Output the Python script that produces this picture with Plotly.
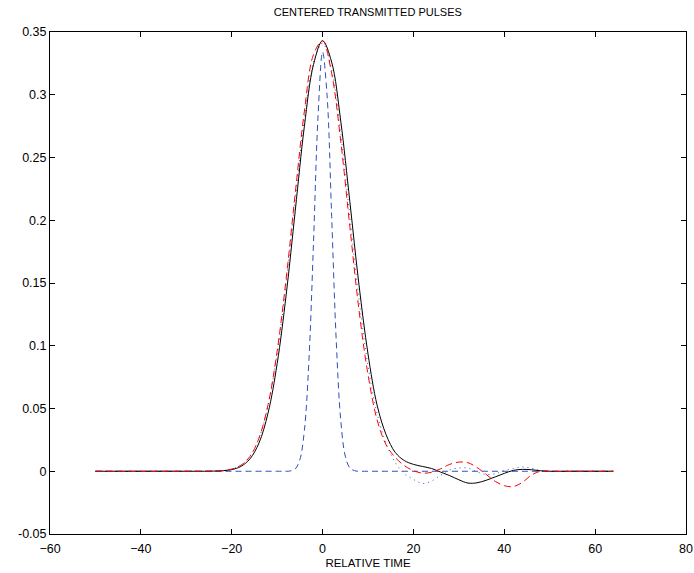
import plotly.graph_objects as go

# Time grid for the wide pulses
t_wide = [-50, -40, -30, -26, -24, -22, -20, -18, -16, -14, -12, -10, -8, -6, -4, -2,
          0, 2, 4, 6, 8, 10, 12, 14, 16, 18, 20, 22, 24, 26, 28, 30, 32, 34, 36, 38,
          40, 42, 44, 46, 48, 50, 56, 64]

# Black solid pulse
pulse_solid = [0, 0, 0, 0, 0.0001, 0.0004, 0.0013, 0.0038, 0.0098, 0.0225, 0.0464, 0.0856,
               0.141, 0.208, 0.275, 0.324,
               0.343, 0.326, 0.279, 0.215, 0.149, 0.0935, 0.0527, 0.029, 0.015, 0.0085,
               0.0055, 0.0038, 0.0022, -0.0007, -0.0035, -0.0068, -0.0094, -0.0092,
               -0.0072, -0.0045, -0.0017, 0.0007, 0.0015, 0.0012, 0.0004, 0, 0, 0]

# Red dashed pulse
pulse_red = [0, 0, 0, 0, 0.0002, 0.0005, 0.0017, 0.0047, 0.0117, 0.0264, 0.053, 0.0956,
             0.154, 0.222, 0.287, 0.332,
             0.343, 0.317, 0.263, 0.195, 0.129, 0.077, 0.041, 0.021, 0.011, 0.0045,
             0.0005, -0.0015, -0.0008, 0.002, 0.0055, 0.0073, 0.0068, 0.003,
             -0.0025, -0.008, -0.0115, -0.0122, -0.0088, -0.003, 0.0, 0, 0, 0]

# Blue dotted pulse
pulse_dot = [0, 0, 0, 0, 0.0002, 0.0006, 0.0018, 0.0048, 0.0119, 0.0264, 0.0525, 0.0938,
             0.1506, 0.217, 0.281, 0.326,
             0.341, 0.320, 0.269, 0.203, 0.138, 0.084, 0.046, 0.022, 0.007, -0.002,
             -0.0065, -0.0097, -0.0078, -0.0032, 0.001, 0.0026, 0.0025, -0.0005,
             -0.0025, -0.002, 0.0005, 0.0022, 0.0034, 0.0024, 0.0005, 0, 0, 0]

# Narrow blue dashed pulse
t_narrow = [-50, -10, -8, -7, -6, -5, -4, -3, -2, -1, 0, 1, 2, 3, 4, 5, 6, 7, 8, 10, 64]
pulse_narrow = [0, 0, 0, 0.0003, 0.0019, 0.0092, 0.0327, 0.0885, 0.182, 0.283, 0.334,
                0.299, 0.203, 0.1045, 0.0407, 0.012, 0.0027, 0.0005, 0, 0, 0]

x_ticks = [-60, -40, -20, 0, 20, 40, 60, 80]
y_ticks = [-0.05, 0, 0.05, 0.1, 0.15, 0.2, 0.25, 0.3, 0.35]
y_labels = ['-0.05', '0', '0.05', '0.1', '0.15', '0.2', '0.25', '0.3', '0.35']

font = 'Liberation Sans, Arial, Helvetica, sans-serif'

fig = go.Figure()
fig.add_trace(go.Scatter(x=t_wide, y=pulse_dot, mode='lines', line_shape='spline',
                         line=dict(color='#3a55c8', width=1, dash='1px,4px')))
fig.add_trace(go.Scatter(x=t_narrow, y=pulse_narrow, mode='lines', line_shape='spline',
                         line=dict(color='#2f4fb8', width=1, dash='6px,4px')))
fig.add_trace(go.Scatter(x=t_wide, y=pulse_solid, mode='lines', line_shape='spline',
                         line=dict(color='black', width=1)))
fig.add_trace(go.Scatter(x=t_wide, y=pulse_red, mode='lines', line_shape='spline',
                         line=dict(color='#ff0000', width=1, dash='7px,4px')))

axis_style = dict(showline=True, linecolor='black', linewidth=1, mirror='ticks',
                  ticks='inside', ticklen=5, tickcolor='black', showgrid=False,
                  zeroline=False, automargin=False,
                  tickfont=dict(family=font, size=12.5, color='black'))

fig.update_layout(
    width=694, height=573,
    margin=dict(l=50, r=8, t=32, b=39),
    paper_bgcolor='white', plot_bgcolor='white',
    showlegend=False,
    title=dict(text='CENTERED TRANSMITTED PULSES', x=0.53, xanchor='center',
               y=1 - 12 / 573, yanchor='middle', yref='container',
               font=dict(family=font, size=11, color='black')),
    xaxis=dict(range=[-60, 80], tickvals=x_ticks, ticklabelstandoff=3,
               title=dict(text='RELATIVE TIME', standoff=3,
                          font=dict(family=font, size=11.5, color='black')),
               **axis_style),
    yaxis=dict(range=[-0.05, 0.35], tickvals=y_ticks, ticktext=y_labels, **axis_style),
)

# drop the default body margin so the figure fills the window exactly
fig.write_html("out.html", config={'displayModeBar': False},
               post_script="document.body.style.margin='0';")
